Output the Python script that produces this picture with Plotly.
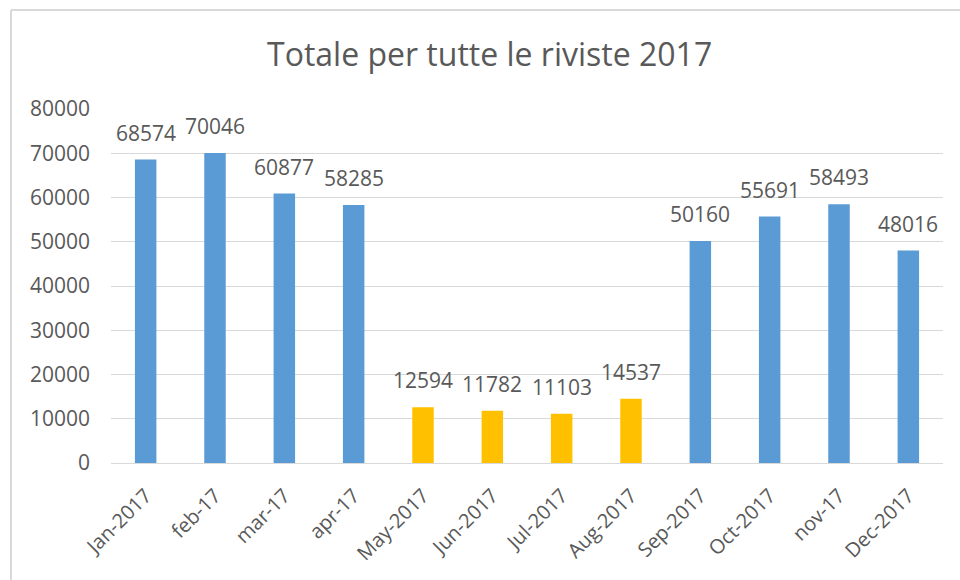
import plotly.graph_objects as go

months = ["Jan-2017", "feb-17", "mar-17", "apr-17", "May-2017", "Jun-2017",
          "Jul-2017", "Aug-2017", "Sep-2017", "Oct-2017", "nov-17", "Dec-2017"]
values = [68574, 70046, 60877, 58285, 12594, 11782, 11103, 14537, 50160, 55691, 58493, 48016]
summer = [False, False, False, False, True, True, True, True, False, False, False, False]
y_ticks = [0, 10000, 20000, 30000, 40000, 50000, 60000, 70000, 80000]

BLUE = "#5B9BD5"
YELLOW = "#FFC000"
TXT = "#595959"
FONT = "Open Sans, Liberation Sans, sans-serif"
colors = [YELLOW if s else BLUE for s in summer]

fig = go.Figure(go.Bar(
    x=months, y=values, marker=dict(color=colors, line=dict(width=0)),
    hoverinfo="x+y",
))

# data labels, placed above each bar
for m, v in zip(months, values):
    fig.add_annotation(x=m, y=v, text=str(v), showarrow=False, xanchor="center",
                       yanchor="bottom", yshift=11,
                       font=dict(family=FONT, size=21, color=TXT))

fig.update_layout(
    width=960, height=580,
    margin=dict(l=111, r=17, t=109, b=117),
    paper_bgcolor="white", plot_bgcolor="white",
    bargap=0.69,
    showlegend=False,
    title=dict(text="Totale per tutte le riviste 2017", x=0.51, xanchor="center",
               y=1 - 55 / 580, yanchor="middle",
               font=dict(family=FONT, size=32, color=TXT)),
    font=dict(family=FONT, color=TXT),
)
fig.update_xaxes(tickangle=-45, tickfont=dict(size=20, color=TXT), showgrid=False,
                 showline=False, ticks="", ticklabelstandoff=16)
fig.update_yaxes(range=[0, 80000], tickvals=y_ticks, tickformat="d",
                 tickfont=dict(size=21, color=TXT), gridcolor="#d9d9d9", gridwidth=1,
                 zeroline=True, zerolinecolor="#d9d9d9", zerolinewidth=1,
                 showline=False, ticks="", ticklabelstandoff=20)

# chart frame (top and left edges visible)
fig.add_shape(type="line", xref="paper", yref="paper", x0=-0.1202, x1=1.05,
              y0=1.2797, y1=1.2797, line=dict(color="#d9d9d9", width=2))
fig.add_shape(type="line", xref="paper", yref="paper", x0=-0.1202, x1=-0.1202,
              y0=1.2797, y1=-0.4, line=dict(color="#d9d9d9", width=2))

fig.write_html("out.html", config={"displayModeBar": False},
               post_script="document.body.style.margin='0';")
